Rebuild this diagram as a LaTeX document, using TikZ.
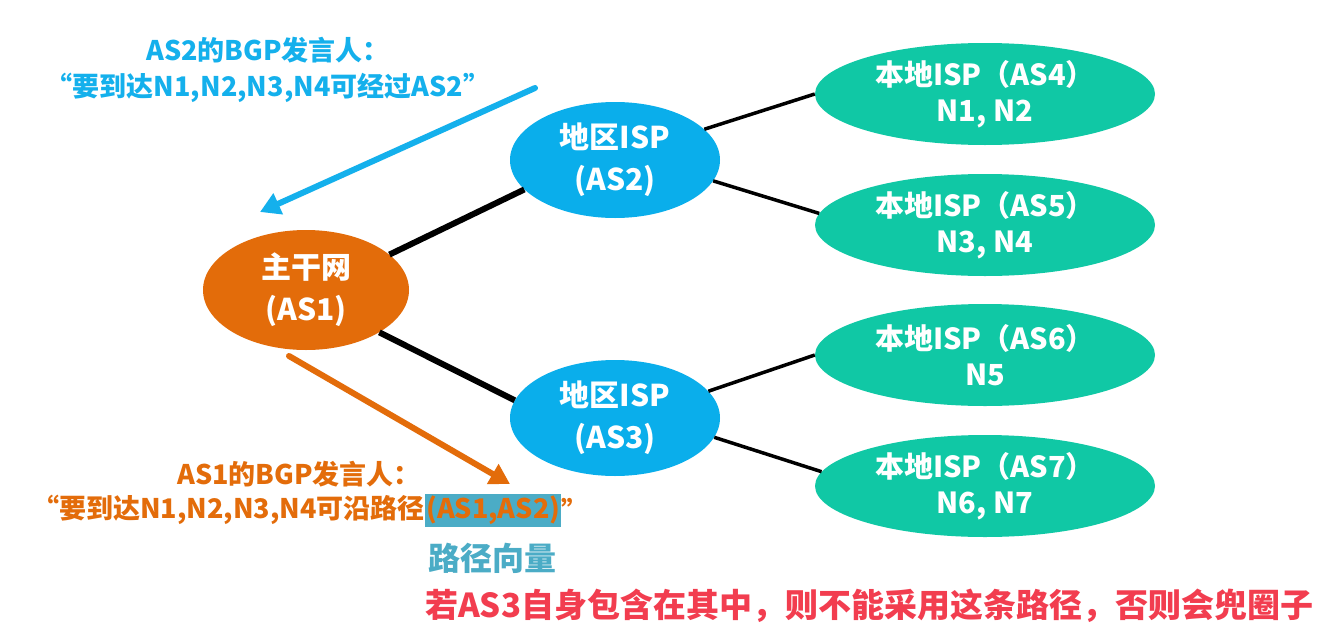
\documentclass[tikz,border=0pt]{standalone}
\usepackage{fontspec}
\setmainfont{Noto Sans CJK SC}
\usetikzlibrary{arrows.meta,shapes.geometric}
\definecolor{asorange}{HTML}{E36C0A}
\definecolor{asblue}{HTML}{0AAEEB}
\definecolor{asteal}{HTML}{10C8A5}
\definecolor{txtblue}{HTML}{14B0EC}
\definecolor{hlblue}{HTML}{4BACC6}
\definecolor{alertred}{HTML}{F23D4F}
\tikzset{
  nodetext/.style={align=center, text=white, inner sep=0pt,
    font=\fontsize{30}{42}\selectfont\bfseries},
  corenode/.style={nodetext, ellipse, fill=asorange, minimum width=206pt, minimum height=120pt},
  regnode/.style={nodetext, ellipse, fill=asblue, minimum width=210pt, minimum height=116pt},
  locnode/.style={nodetext, ellipse, fill=asteal, minimum width=340pt, minimum height=102pt,
    font=\fontsize{29}{36}\selectfont\bfseries},
  trunk/.style={line width=6pt, black},
  branch/.style={line width=3.5pt, black},
  msgarrow/.style={line width=6pt, line cap=round, -{Triangle[length=20pt,width=22pt]}},
  labeltext/.style={inner sep=0pt, font=\fontsize{27}{36}\selectfont\bfseries, align=center}
}
\begin{document}
\begin{tikzpicture}[x=1pt,y=-1pt]
\useasboundingbox[fill=white] (0,0) rectangle (1328,640);

% nodes
\node[corenode] (as1) at (306,290) {主干网\\(AS1)};
\node[regnode] (as2) at (615,160) {地区ISP\\(AS2)};
\node[regnode] (as3) at (615,418) {地区ISP\\(AS3)};
\node[locnode] (as4) at (985,94) {本地ISP（AS4）\\N1, N2};
\node[locnode] (as5) at (985,225) {本地ISP（AS5）\\N3, N4};
\node[locnode] (as6) at (985,355) {本地ISP（AS6）\\N5};
\node[locnode] (as7) at (985,486) {本地ISP（AS7）\\N6, N7};

% links
\draw[trunk] (as1.23) -- (as2.198);
\draw[trunk] (as1.-30) -- (as3.170);
\draw[branch] (as2.19) -- (as4.180);
\draw[branch] (as2.-12) -- (as5.176);
\draw[branch] (as3.16) -- (as6.180);
\draw[branch] (as3.-11) -- (as7.175);

% message arrows
\coordinate (bs) at (535,88);
\coordinate (be) at (260,212);
\draw[msgarrow, txtblue] (bs) -- (be);
\coordinate (os) at (289,356);
\coordinate (oe) at (510,484);
\draw[msgarrow, asorange] (os) -- (oe);

% AS2 speaker text
\node[labeltext, text=txtblue] (msg2) at (268,70) {AS2的BGP发言人：\\“要到达N1,N2,N3,N4可经过AS2”};

% AS1 speaker text
\node[labeltext, text=asorange] (msg1a) at (299,474) {AS1的BGP发言人：};
\node[labeltext, text=asorange, anchor=east] (msg1b) at (425,510) {“要到达N1,N2,N3,N4可沿路径};
\node[labeltext, text=asorange, fill=hlblue, anchor=west, inner xsep=1pt, minimum height=33pt] (msg1c) at (msg1b.east) {(AS1,AS2)};
\node[labeltext, text=asorange, anchor=west] (msg1d) at (msg1c.east) {”};

% path vector label
\node[inner sep=0pt, font=\fontsize{32}{36}\selectfont\bfseries, text=hlblue] (pv) at (492,558) {路径向量};

% warning
\node[inner sep=0pt, font=\fontsize{33}{36}\selectfont\bfseries, text=alertred, anchor=west] (warn) at (425,606) {若AS3自身包含在其中，则不能采用这条路径，否则会兜圈子};
\end{tikzpicture}
\end{document}
